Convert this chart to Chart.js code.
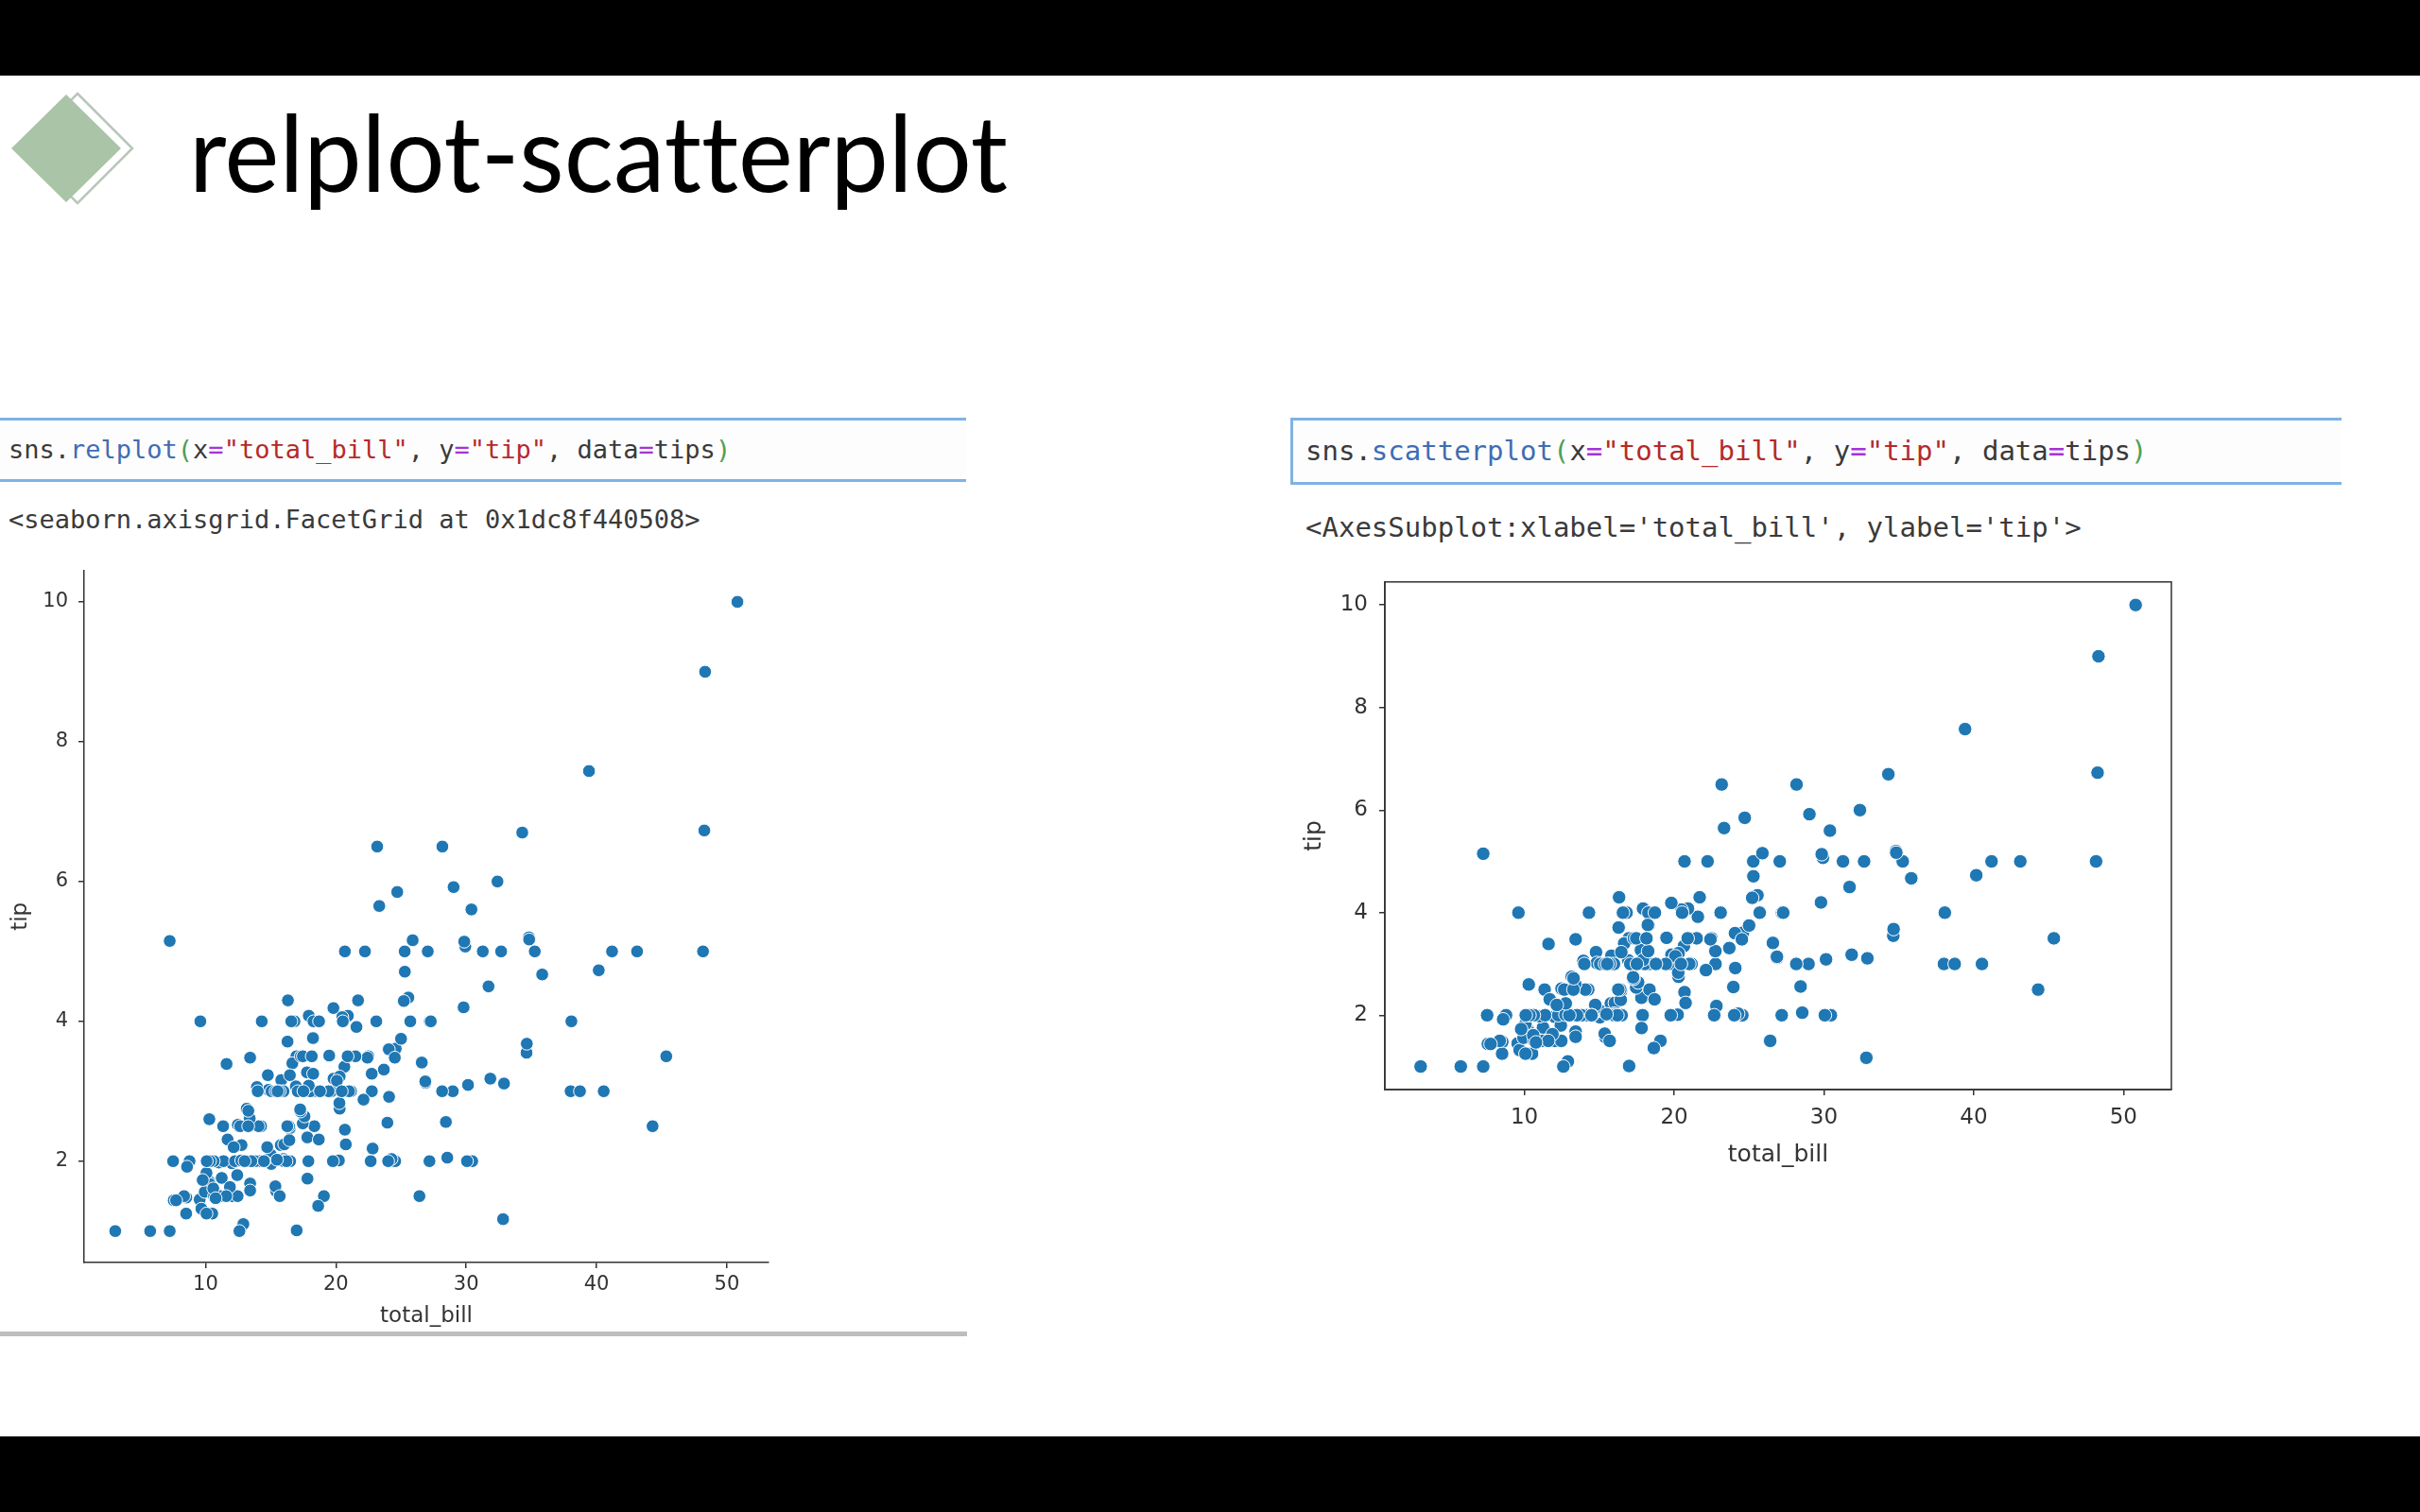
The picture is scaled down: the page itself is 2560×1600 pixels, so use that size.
<!DOCTYPE html>
<html>
<head>
<meta charset="utf-8">
<script src="https://cdn.jsdelivr.net/npm/chart.js@4.4.0/dist/chart.umd.min.js"></script>
<style>
  html, body { margin: 0; padding: 0; background: #fff; }
  body { width: 2560px; height: 1600px; position: relative; overflow: hidden; }
  .bar { position: absolute; left: 0; width: 2560px; background: #000; }
  .cell { position: absolute; box-sizing: border-box; background: #fdfdfd;
          border-top: 3px solid #80b2e4; border-bottom: 3px solid #80b2e4; }
  .code { font-family: "DejaVu Sans Mono", monospace; white-space: pre; color: #3a3a3a; }
  .out { position: absolute; font-family: "DejaVu Sans Mono", monospace; white-space: pre; color: #3a3a3a; }
  .fn { color: #3f6db3; }
  .br { color: #4f9f56; }
  .op { color: #a633d6; }
  .st { color: #b52a2a; }
  canvas { position: absolute; }
</style>
</head>
<body>
<div class="bar" style="top:0;height:80px"></div>
<div class="bar" style="top:1520px;height:80px"></div>

<!-- slide title with the diamond bullet -->
<svg style="position:absolute;left:0;top:80px" width="1200" height="180" viewBox="0 80 1200 180">
  <polygon points="82,99 140,157 82,215 24,157" fill="#fff" stroke="#b9c6b9" stroke-width="2.5"/>
  <polygon points="70,100 128,157 70,214 12,157" fill="#a9c4a7"/>
  <text x="200" y="203" font-family="Lato" font-size="112" fill="#000"
        style="font-variant-ligatures:none"
        textLength="866" lengthAdjust="spacingAndGlyphs">relplot-scatterplot</text>
</svg>

<!-- left notebook cell -->
<div class="cell" style="left:0;top:442px;width:1022px;height:68px;padding-left:9px;">
  <div class="code" style="font-size:27px;line-height:62px;"><span>sns.</span><span class="fn">relplot</span><span class="br">(</span>x<span class="op">=</span><span class="st">"total_bill"</span>, y<span class="op">=</span><span class="st">"tip"</span>, data<span class="op">=</span>tips<span class="br">)</span></div>
</div>
<div class="out" style="left:9px;top:535px;font-size:27px;line-height:30px;">&lt;seaborn.axisgrid.FacetGrid at 0x1dc8f440508&gt;</div>

<!-- right notebook cell -->
<div class="cell" style="left:1365px;top:442px;width:1112px;height:71px;padding-left:13px;border-left:3px solid #80b2e4;">
  <div class="code" style="font-size:29px;line-height:65px;"><span>sns.</span><span class="fn">scatterplot</span><span class="br">(</span>x<span class="op">=</span><span class="st">"total_bill"</span>, y<span class="op">=</span><span class="st">"tip"</span>, data<span class="op">=</span>tips<span class="br">)</span></div>
</div>
<div class="out" style="left:1381px;top:541px;font-size:29px;line-height:34px;">&lt;AxesSubplot:xlabel='total_bill', ylabel='tip'&gt;</div>

<canvas id="relplot-chart" width="840" height="830" style="left:0;top:580px"></canvas>
<canvas id="scatter-chart" width="960" height="650" style="left:1360px;top:590px"></canvas>

<!-- gray separator under the left output -->
<div style="position:absolute;left:0;top:1409px;width:1023px;height:5px;background:#bdbdbd;"></div>

<script>
//tips dataset - total_bill column
const totalBill = [16.99,10.34,21.01,23.68,24.59,25.29,8.77,26.88,15.04,14.78,
  10.27,35.26,15.42,18.43,14.83,21.58,10.33,16.29,16.97,20.65,
  17.92,20.29,15.77,39.42,19.82,17.81,13.37,12.69,21.7,19.65,
  9.55,18.35,15.06,20.69,17.78,24.06,16.31,16.93,18.69,31.27,
  16.04,17.46,13.94,9.68,30.4,18.29,22.23,32.4,28.55,18.04,
  12.54,10.29,34.81,9.94,25.56,19.49,38.01,26.41,11.24,48.27,
  20.29,13.81,11.02,18.29,17.59,20.08,16.45,3.07,20.23,15.01,
  12.02,17.07,26.86,25.28,14.73,10.51,17.92,27.2,22.76,17.29,
  19.44,16.66,10.07,32.68,15.98,34.83,13.03,18.28,24.71,21.16,
  28.97,22.49,5.75,16.32,22.75,40.17,27.28,12.03,21.01,12.46,
  11.35,15.38,44.3,22.42,20.92,15.36,20.49,25.21,18.24,14.31,
  14.0,7.25,38.07,23.95,25.71,17.31,29.93,10.65,12.43,24.08,
  11.69,13.42,14.26,15.95,12.48,29.8,8.52,14.52,11.38,22.82,
  19.08,20.27,11.17,12.26,18.26,8.51,10.33,14.15,16.0,13.16,
  17.47,34.3,41.19,27.05,16.43,8.35,18.64,11.87,9.78,7.51,
  14.07,13.13,17.26,24.55,19.77,29.85,48.17,25.0,13.39,16.49,
  21.5,12.66,16.21,13.81,17.51,24.52,20.76,31.71,10.59,10.63,
  50.81,15.81,7.25,31.85,16.82,32.9,17.89,14.48,9.6,34.63,
  34.65,23.33,45.35,23.17,40.55,20.69,20.9,30.46,18.15,23.1,
  15.69,19.81,28.44,15.48,16.58,7.56,10.34,43.11,13.0,13.51,
  18.71,12.74,13.0,16.4,20.53,16.47,26.59,38.73,24.27,12.76,
  30.06,25.89,48.33,13.27,28.17,12.9,28.15,11.59,7.74,30.14,
  12.16,13.42,8.58,15.98,13.42,16.27,10.09,20.45,13.28,22.12,
  24.01,15.69,11.61,10.77,15.53,10.07,12.6,32.83,35.83,29.03,
  27.18,22.67,17.82,18.78];

//tips dataset - tip column
const tip = [1.01,1.66,3.5,3.31,3.61,4.71,2.0,3.12,1.96,3.23,
  1.71,5.0,1.57,3.0,3.02,3.92,1.67,3.71,3.5,3.35,
  4.08,2.75,2.23,7.58,3.18,2.34,2.0,2.0,4.3,3.0,
  1.45,2.5,3.0,2.45,3.27,3.6,2.0,3.07,2.31,5.0,
  2.24,2.54,3.06,1.32,5.6,3.0,5.0,6.0,2.05,3.0,
  2.5,2.6,5.2,1.56,4.34,3.51,3.0,1.5,1.76,6.73,
  3.21,2.0,1.98,3.76,2.64,3.15,2.47,1.0,2.01,2.09,
  1.97,3.0,3.14,5.0,2.2,1.25,3.08,4.0,3.0,2.71,
  3.0,3.4,1.83,5.0,2.03,5.17,2.0,4.0,5.85,3.0,
  3.0,3.5,1.0,4.3,3.25,4.73,4.0,1.5,3.0,1.5,
  2.5,3.0,2.5,3.48,4.08,1.64,4.06,4.29,3.76,4.0,
  3.0,1.0,4.0,2.55,4.0,3.5,5.07,1.5,1.8,2.92,
  2.31,1.68,2.5,2.0,2.52,4.2,1.48,2.0,2.0,2.18,
  1.5,2.83,1.5,2.0,3.25,1.25,2.0,2.0,2.0,2.75,
  3.5,6.7,5.0,5.0,2.3,1.5,1.36,1.63,1.73,2.0,
  2.5,2.0,2.74,2.0,2.0,5.14,5.0,3.75,2.61,2.0,
  3.5,2.5,2.0,2.0,3.0,3.48,2.24,4.5,1.61,2.0,
  10.0,3.16,5.15,3.18,4.0,3.11,2.0,2.0,4.0,3.55,
  3.68,5.65,3.5,6.5,3.0,5.0,3.5,2.0,3.5,4.0,
  1.5,4.19,2.56,2.02,4.0,1.44,2.0,5.0,2.0,2.0,
  4.0,2.01,2.0,2.5,4.0,3.23,3.41,3.0,2.03,2.23,
  2.0,5.16,9.0,2.5,6.5,1.1,3.0,1.5,1.44,3.09,
  2.2,3.48,1.92,3.0,1.58,2.5,2.0,3.0,2.72,2.88,
  2.0,3.0,3.39,1.47,3.0,1.25,1.0,1.17,4.67,5.92,
  2.0,2.0,1.75,3.0];

//tick labels on both charts
const xTicks = [10, 20, 30, 40, 50];
const yTicks = [2, 4, 6, 8, 10];

//matplotlib style 5% margins around the data
function padRange(values) {
  const lo = Math.min(...values);
  const hi = Math.max(...values);
  const m = (hi - lo) * 0.05;
  return [lo - m, hi + m];
}
const xRange = padRange(totalBill);
const yRange = padRange(tip);

const points = totalBill.map((x, i) => ({ x: x, y: tip[i] }));

//draws the top and right spines for the scatterplot axes box
const boxPlugin = {
  id: 'box',
  afterDraw(chart) {
    const a = chart.chartArea;
    const ctx = chart.ctx;
    ctx.save();
    ctx.strokeStyle = '#333';
    ctx.lineWidth = 1.5;
    ctx.strokeRect(a.left, a.top, a.right - a.left, a.bottom - a.top);
    ctx.restore();
  }
};

//one builder for both seaborn pictures, s holds the sizes of each one
function makeChart(canvasId, s, plugins) {
  const tickFont = { family: 'DejaVu Sans', size: s.tickSize };
  const titleFont = { family: 'DejaVu Sans', size: s.titleSize };
  const axisLine = { display: true, color: '#333', width: 1.5 };
  const tickMarks = { display: true, drawOnChartArea: false, drawTicks: true,
    tickLength: 6, color: '#333', lineWidth: 1.5 };

  return new Chart(document.getElementById(canvasId), {
    type: 'scatter',
    data: {
      datasets: [{
        data: points,
        backgroundColor: '#1f77b4',
        borderColor: '#ffffff',
        borderWidth: 1,
        pointRadius: s.radius,
        pointHoverRadius: s.radius
      }]
    },
    options: {
      responsive: false,
      animation: false,
      devicePixelRatio: 1,
      events: [],
      layout: { padding: { left: 0, top: s.padTop, right: s.padRight, bottom: 0 } },
      plugins: { legend: { display: false }, tooltip: { enabled: false } },
      scales: {
        x: {
          type: 'linear',
          min: xRange[0],
          max: xRange[1],
          afterBuildTicks: (scale) => { scale.ticks = xTicks.map(v => ({ value: v })); },
          afterFit: (scale) => { scale.height = s.xAxisHeight; },
          ticks: { font: tickFont, color: '#333', padding: s.xTickPad, maxRotation: 0,
            callback: (v) => String(v) },
          grid: tickMarks,
          border: axisLine,
          title: { display: true, text: 'total_bill', font: titleFont, color: '#333',
            padding: { top: 0, bottom: s.xTitlePad } }
        },
        y: {
          type: 'linear',
          min: yRange[0],
          max: yRange[1],
          afterBuildTicks: (scale) => { scale.ticks = yTicks.map(v => ({ value: v })); },
          afterFit: (scale) => { scale.width = s.yAxisWidth; },
          ticks: { font: tickFont, color: '#333', padding: s.yTickPad,
            callback: (v) => String(v) },
          grid: tickMarks,
          border: axisLine,
          title: { display: true, text: 'tip', font: titleFont, color: '#333',
            padding: { top: s.yTitlePad, bottom: 0 } }
        }
      }
    },
    plugins: plugins
  });
}

//relplot - FacetGrid, despined (no top/right lines)
let relplotChart = makeChart('relplot-chart', {
  tickSize: 21, titleSize: 23, radius: 6.8,
  padTop: 21, padRight: 27, xAxisHeight: 74, yAxisWidth: 89,
  xTickPad: 5, yTickPad: 11, xTitlePad: 3, yTitlePad: 8
}, []);

//scatterplot - plain AxesSubplot with the full box
let scatterChart = makeChart('scatter-chart', {
  tickSize: 23, titleSize: 25, radius: 7.2,
  padTop: 23, padRight: 23, xAxisHeight: 87, yAxisWidth: 105,
  xTickPad: 10, yTickPad: 12, xTitlePad: 3, yTitlePad: 15
}, [boxPlugin]);
</script>
</body>
</html>
